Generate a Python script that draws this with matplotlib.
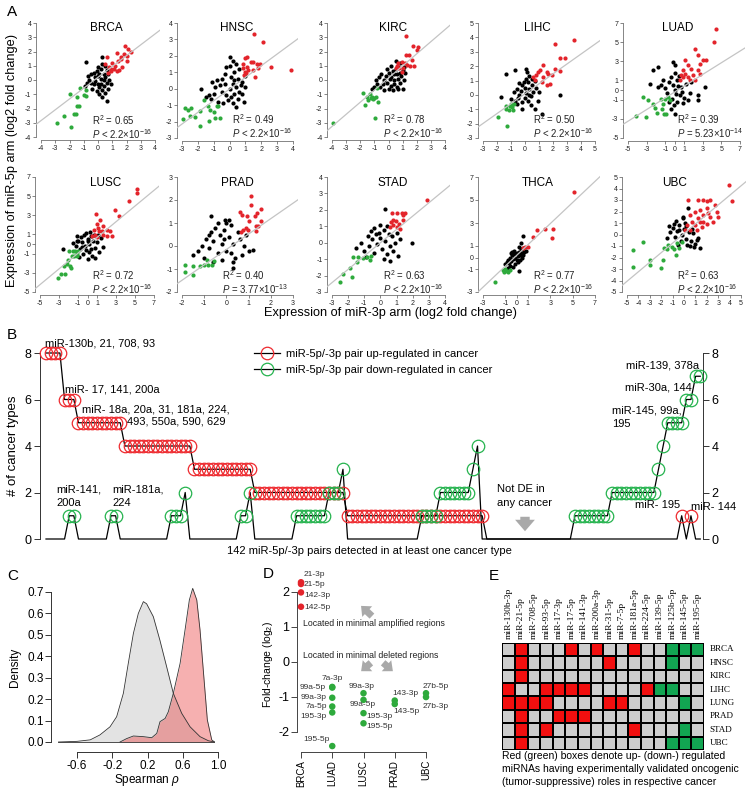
import numpy as np
import matplotlib
matplotlib.use('Agg')
import matplotlib.pyplot as plt
from matplotlib.lines import Line2D
from matplotlib.colors import ListedColormap
from matplotlib.patches import FancyArrowPatch

plt.rcParams['font.family'] = ['Liberation Sans', 'DejaVu Sans']
plt.rcParams['mathtext.fontset'] = 'custom'
plt.rcParams['mathtext.rm'] = 'Liberation Sans'
plt.rcParams['mathtext.it'] = 'Liberation Sans:italic'
plt.rcParams['mathtext.bf'] = 'Liberation Sans:bold'

# ---------------------------------------------------------------- data: panel A
cancers_A = ['BRCA', 'HNSC', 'KIRC', 'LIHC', 'LUAD', 'LUSC', 'PRAD', 'STAD', 'THCA', 'UBC']
r2_values = [0.65, 0.49, 0.78, 0.50, 0.39, 0.72, 0.40, 0.63, 0.77, 0.63]
p_relation = ['<', '<', '<', '<', '=', '<', '=', '<', '<', '<']
p_mantissa = ['2.2', '2.2', '2.2', '2.2', '5.23', '2.2', '3.77', '2.2', '2.2', '2.2']
p_exponent = [-16, -16, -16, -16, -14, -16, -13, -16, -16, -16]
fit_slopes = [0.76, 0.71, 0.85, 0.69, 0.61, 0.82, 0.67, 0.81, 0.92, 0.83]
fit_intercepts = [0.19, -0.02, 0.14, 0.08, -0.20, -0.13, -0.15, 0.0, 0.18, 0.08]

brca_red = [(1.9,2.4),(2.1,2.2),(2.3,2.0),(1.6,1.6),(0.6,1.6),(1.3,1.9),(1.6,1.5),(2.0,1.3),(1.0,1.2),(0.8,0.9),(1.4,1.3),(0.9,0.6),(1.1,0.8),(1.7,0.9),(0.7,0.5),(1.2,1.0),(1.5,0.7),(2.0,1.7),(0.5,1.1),(1.8,1.8),(0.9,0.8),(1.3,0.6)]
brca_green = [(-2.85,-3.04),(-1.92,-3.27),(-2.36,-2.5),(-1.68,-2.38),(-1.55,-2.38),(-1.45,-1.82),(-1.31,-1.82),(-1.45,-1.17),(-1.96,-0.98),(-1.26,-0.58),(-0.96,-1.05),(-0.84,-1.12),(-0.84,-0.7)]
brca_black = [(-0.84,1.25),(0.3,1.6),(0.5,1.0),(-0.5,0.4),(-0.3,0.5),(0.0,0.3),(0.2,0.1),(0.4,0.0),(-0.2,-0.1),(-0.6,0.0),(-0.8,-0.2),(0.1,-0.5),(0.3,-0.7),(0.5,-0.9),(0.1,-1.0),(0.6,-1.5),(0.3,-1.2),(-0.1,-0.8),(-0.4,-0.6),(0.7,0.4),(0.8,0.0),(0.9,-0.3),(0.6,0.7),(0.2,0.8),(-0.1,0.6),(-0.7,0.3),(0.4,0.4),(0.0,-0.3),(0.2,-0.3),(-0.3,-0.3),(0.5,0.2),(0.7,-0.6),(-0.9,-0.4),(0.0,0.9),(0.3,1.1),(-0.2,0.2),(0.1,0.4),(0.6,-0.2),(0.4,-0.4),(-0.5,-0.2)]

hnsc_red = [(1.53,3.3),(2.08,2.85),(3.9,1.14),(2.64,1.34),(1.07,1.9),(1.32,1.63),(1.49,1.63),(1.7,1.53),(1.9,1.53),(0.86,1.53),(1.11,1.34),(0.97,1.03),(0.9,0.83),(1.6,0.73),(1.18,1.14),(0.82,1.24),(1.8,1.24),(0.95,1.84),(1.49,1.14),(1.03,0.93)]
hnsc_green = [(-2.94,-1.83),(-2.48,-1.69),(-1.89,-2.25),(-2.8,-1.18),(-2.63,-1.28),(-2.16,-1.73),(-1.89,-1.33),(-1.64,-0.68),(-1.39,-1.04),(-1.32,-1.99),(-1.01,-1.39),(-0.8,-1.08),(-0.6,-1.79),(-0.91,-1.79),(-1.22,-1.28),(-0.7,-1.04),(-2.44,-1.18)]
hnsc_black = [(-1.8,0.0),(-1.3,-0.4),(-1.5,-0.5),(-1.2,-0.6),(-1.0,-0.3),(-1.1,0.4),(-0.8,0.5),(-0.6,0.2),(-0.5,-0.2),(-0.3,0.9),(-0.2,1.3),(0.0,1.9),(0.2,1.7),(0.4,1.5),(0.3,1.0),(0.6,1.2),(0.1,0.7),(0.5,0.6),(0.8,0.4),(0.7,0.2),(-0.7,-0.8),(-0.4,-0.9),(-0.1,-0.7),(0.2,-0.9),(0.4,-1.1),(0.9,-0.8),(1.0,0.1),(0.6,-0.2),(0.3,-0.3),(0.0,0.0),(-0.3,0.3),(0.2,0.3),(0.4,0.1),(-0.9,0.1),(-0.2,-0.4),(0.1,-0.5),(0.5,-0.6),(0.8,-0.3),(1.0,0.8),(-0.5,0.6),(0.0,1.4),(0.3,0.5)]

kirc_red = [(1.24,3.09),(1.76,2.39),(2.11,2.34),(1.24,1.75),(1.48,1.75),(0.7,1.17),(0.93,1.29),(1.17,1.22),(0.6,1.0),(1.55,0.96),(1.05,0.82),(0.76,0.82),(1.32,1.05),(1.63,1.4),(0.93,0.58),(2.0,2.1),(0.52,0.82),(1.8,0.96)]
kirc_green = [(-3.9,-3.04),(-1.31,-0.98),(-1.2,-1.17),(-1.04,-1.28),(-1.79,-0.93),(-1.55,-1.17),(-1.27,-1.29),(-1.08,-1.36),(-1.43,-1.4),(-1.67,-1.75),(-0.86,-1.17),(-0.72,-1.52),(-0.83,-0.58),(-0.96,-2.69)]
kirc_black = [(-1.2,-0.6),(-1.0,-0.5),(-0.8,-0.3),(-0.6,-0.5),(-0.4,-0.3),(-0.3,0.0),(-0.1,-0.2),(-0.2,0.3),(0.0,0.5),(0.2,0.2),(0.3,0.6),(0.5,0.8),(0.7,0.9),(0.6,0.4),(0.4,0.0),(0.2,-0.4),(0.0,-0.6),(0.3,-0.7),(0.6,-0.5),(0.8,-0.2),(0.9,0.3),(1.0,0.7),(1.1,0.9),(1.2,0.5),(0.8,1.2),(0.5,1.3),(0.2,1.0),(-0.1,0.8),(-0.5,0.4),(-0.7,0.2),(0.4,-0.3),(0.1,0.1),(0.7,0.1),(0.7,-0.6),(1.0,-0.6),(-0.9,0.0),(0.4,0.4),(-0.3,-0.7),(0.8,0.5),(1.1,0.0)]

lihc_red = [(3.49,3.84),(2.13,3.56),(2.49,2.56),(2.85,2.56),(2.49,1.66),(2.13,1.82),(1.25,2.05),(1.06,1.71),(1.54,1.59),(0.82,1.36),(1.3,1.24),(1.66,1.47),(0.7,1.01),(1.54,0.66),(1.78,0.78),(1.18,0.9),(0.94,1.59),(1.9,1.36),(0.58,1.24)]
lihc_green = [(-1.28,-2.19),(-1.93,-1.54),(-1.34,-0.8),(-1.09,-0.8),(-0.9,-0.84),(-1.14,-1.08),(-0.85,-1.08),(-0.97,-0.66),(-1.37,-0.96),(-0.8,-0.66)]
lihc_black = [(-1.33,1.42),(-0.73,1.7),(0.1,1.82),(0.15,1.59),(-1.68,-0.15),(-0.25,-0.96),(0.7,-0.96),(1.18,-1.31),(2.49,-0.03),(-0.8,0.2),(-0.6,0.4),(-0.5,-0.2),(-0.3,0.3),(-0.2,0.7),(0.0,0.5),(0.2,0.9),(0.3,0.4),(0.5,0.7),(0.6,0.2),(0.4,-0.1),(0.2,-0.4),(0.0,-0.2),(-0.2,-0.5),(-0.4,0.0),(-0.7,-0.4),(-1.0,-0.3),(0.7,1.0),(0.8,0.5),(1.0,0.2),(0.9,-0.4),(0.1,1.1),(-0.1,0.9),(0.3,1.3),(0.5,1.1),(-0.4,0.8),(0.1,0.1),(0.3,0.0),(-0.6,-0.6),(0.4,-0.7)]

luad_red = [(4.42,6.41),(4.24,5.02),(2.16,4.33),(2.52,3.63),(1.09,3.18),(2.7,2.76),(3.06,3.18),(3.35,3.11),(1.45,2.59),(1.8,2.24),(0.9,2.13),(1.09,1.72),(1.45,1.37),(1.98,1.54),(0.73,1.54),(2.52,2.07),(2.7,1.65),(0.55,1.02),(1.63,1.02),(0.9,1.37),(2.16,1.09)]
luad_green = [(-4.1,-2.73),(-3.1,-2.8),(-3.39,-0.71),(-2.85,-1.06),(-2.32,-1.48),(-2.14,-1.83),(-1.42,-0.88),(-1.24,-1.48),(-1.31,-1.93),(-1.13,-2.45),(-0.88,-2.45),(-1.88,-2.38),(-1.06,-0.88),(-0.52,-1.06),(-0.7,-0.71)]
luad_black = [(-2.32,2.06),(-1.78,2.41),(-2.67,0.6),(-0.16,2.93),(0.0,2.6),(3.25,0.32),(2.52,-0.55),(2.52,-1.06),(-0.34,-1.93),(0.0,-2.45),(-1.5,0.5),(-1.2,1.0),(-1.0,0.2),(-0.8,-0.3),(-0.6,0.8),(-0.4,1.4),(-0.2,0.5),(0.0,0.0),(0.2,1.0),(0.4,0.4),(0.6,-0.5),(0.8,-0.2),(1.0,-0.8),(1.2,0.6),(1.4,-1.0),(0.3,-1.2),(-0.3,-0.9),(-0.6,-1.2),(0.1,-0.4),(0.5,1.5),(0.0,1.8),(-1.8,0.3),(1.6,-0.3),(1.8,0.8),(0.7,0.3),(-0.1,-1.6),(0.9,-1.3)]

lusc_red = [(5.18,5.79),(5.18,5.33),(4.37,4.5),(3.35,2.9),(2.9,3.52),(0.9,3.14),(1.32,2.55),(1.67,1.85),(2.09,1.5),(0.96,2.14),(0.72,1.5),(1.25,1.33),(1.67,0.98),(2.37,1.33),(2.02,0.81),(0.79,0.98),(1.14,1.68),(0.44,0.89),(1.49,1.4),(2.54,0.89),(1.04,0.74)]
lusc_green = [(-3.07,-3.55),(-2.79,-3.09),(-2.37,-3.13),(-2.44,-2.26),(-2.19,-2.06),(-1.84,-2.26),(-1.77,-2.5),(-2.02,-1.64),(-1.67,-1.22),(-1.42,-1.29),(-1.07,-1.22),(-0.96,-0.76),(-1.91,-0.76),(-1.56,-0.76),(-1.32,-0.76),(-1.14,-1.0)]
lusc_black = [(-2.61,-0.5),(-1.14,0.29),(-1.5,0.1),(-1.2,-0.2),(-1.0,0.3),(-0.8,-0.5),(-0.6,0.2),(-0.4,0.9),(-0.2,1.2),(0.0,0.5),(0.2,0.0),(0.4,0.8),(0.6,0.3),(0.8,-0.4),(1.0,0.2),(1.2,-0.8),(0.5,-1.2),(0.2,-0.8),(-0.2,-0.6),(-0.5,-1.0),(-0.9,-1.3),(0.0,-1.6),(0.8,-1.5),(1.4,0.6),(0.3,1.3),(-0.7,0.7),(1.6,-0.3),(-0.3,-0.2),(0.7,0.9),(-1.1,0.8),(0.1,0.3),(1.1,0.9),(-0.6,-0.3),(0.4,-0.5)]

prad_red = [(1.13,2.19),(1.09,1.8),(0.61,1.46),(0.69,1.36),(0.91,1.29),(1.0,1.07),(1.58,1.62),(1.4,1.43),(1.28,1.29),(1.58,1.07),(1.33,0.88),(1.43,0.88),(1.33,0.64),(0.76,0.71),(0.88,0.78),(0.64,0.59),(0.99,0.71)]
prad_green = [(-1.85,-0.81),(-1.85,-1.14),(-1.51,-0.86),(-1.51,-1.25),(-1.21,-0.88),(-1.03,-0.81),(-0.88,-0.59),(-0.81,-0.81),(-0.66,-0.81),(-0.58,-0.67)]
prad_black = [(-0.7,1.29),(-0.06,1.14),(0.13,1.14),(0.31,-0.96),(1.21,-0.19),(-1.5,-0.4),(-1.3,-0.2),(-1.1,0.0),(-1.0,-0.5),(-0.9,0.3),(-0.8,-0.1),(-0.7,0.6),(-0.6,0.2),(-0.5,0.8),(-0.4,-0.3),(-0.3,0.5),(-0.2,0.1),(-0.1,0.7),(0.0,-0.2),(0.1,0.4),(0.2,0.9),(0.3,0.1),(0.4,-0.5),(0.5,0.6),(0.6,0.3),(0.7,-0.4),(0.8,0.0),(0.3,-0.7),(-0.2,-0.6),(-0.6,-0.7),(0.0,1.0),(-0.4,1.0),(0.9,0.5),(1.0,-0.2),(-0.8,0.5),(0.2,-0.3),(-0.1,0.3)]

stad_red = [(2.91,2.6),(0.7,1.79),(1.0,1.83),(1.31,1.79),(1.52,1.83),(1.41,1.69),(0.8,1.38),(0.96,1.34),(1.16,1.14),(0.63,1.28),(1.24,0.81),(0.8,1.08),(1.0,0.98),(1.41,1.38),(0.6,0.98)]
stad_green = [(-2.3,-1.9),(-2.5,-2.41),(-1.78,-2.07),(-1.88,-1.56),(-1.67,-0.85),(-1.36,-0.85),(-1.47,-1.16),(-1.05,-0.95),(-0.85,-0.89),(-0.6,-0.81),(-0.64,-1.05)]
stad_black = [(0.28,2.03),(1.94,-0.04),(-1.5,-0.3),(-1.2,0.0),(-1.0,-0.5),(-0.8,0.4),(-0.7,-0.2),(-0.5,0.2),(-0.4,-0.6),(-0.3,0.5),(-0.2,-0.1),(0.0,0.3),(0.1,-0.4),(0.2,0.8),(0.3,0.1),(0.4,-0.7),(0.5,0.5),(0.6,-0.2),(0.7,0.4),(0.8,-0.5),(0.9,0.0),(1.0,0.6),(1.1,-0.8),(0.4,1.0),(0.0,1.1),(-0.4,0.9),(-0.9,-0.9),(0.2,-1.0),(0.6,-1.1),(-0.1,0.6),(1.2,0.2),(-0.6,0.7)]

thca_red = [(5.13,5.72),(1.79,2.39),(1.44,1.81),(2.54,2.45),(3.22,2.45),(3.13,1.67),(1.04,0.94),(0.75,0.94),(0.54,0.8)]
thca_green = [(-1.93,-2.1),(-1.24,-1.09),(-0.89,-1.14),(-1.15,-1.3),(-0.77,-1.3),(-0.63,-1.09),(-1.04,-0.96)]
thca_black = [(0.6,1.9),(-1.0,-0.6),(-0.9,-0.4),(-0.8,-0.2),(-0.7,-0.5),(-0.6,0.0),(-0.5,-0.3),(-0.4,0.2),(-0.3,-0.1),(-0.2,0.3),(-0.1,0.0),(0.0,0.4),(0.1,0.1),(0.2,0.5),(0.3,0.2),(0.4,0.7),(0.5,0.4),(0.6,0.8),(0.7,0.5),(0.3,-0.2),(0.1,-0.4),(-0.1,-0.6),(-0.3,-0.8),(-0.6,-0.7),(0.5,0.0),(0.2,0.9),(-0.2,0.6),(0.4,1.3),(-0.4,0.5),(0.0,-0.2),(0.6,0.2),(0.2,-1.2),(-0.8,-0.9),(0.8,0.6),(-0.5,0.4)]

ubc_red = [(3.98,4.3),(4.18,2.94),(0.38,3.0),(1.25,3.0),(1.69,3.0),(1.99,2.87),(2.28,3.0),(2.72,2.57),(2.86,1.99),(1.99,2.28),(1.4,2.14),(0.96,1.99),(0.53,1.7),(1.69,1.7),(2.28,1.55),(1.25,1.41),(0.67,1.12),(1.69,1.12),(2.57,1.12),(0.96,0.83),(1.55,0.68),(1.99,0.91),(0.23,0.83),(3.0,1.55),(1.4,1.12),(2.13,1.84),(0.53,0.39),(1.1,0.39),(0.09,0.39)]
ubc_green = [(-4.44,-2.8),(-4.44,-1.35),(-3.63,-0.63),(-2.98,-2.22),(-2.98,-2.65),(-2.05,-2.88),(-1.87,-2.22),(-1.75,-1.14),(-1.52,-1.29),(-1.08,-1.06),(-0.88,-1.29),(-0.64,-0.77),(-0.7,-1.78),(-0.41,-1.2),(-1.37,-0.92),(-0.2,-0.63)]
ubc_black = [(-0.06,1.41),(0.38,2.28),(-1.5,-0.3),(-1.2,0.2),(-1.0,0.6),(-0.8,-0.2),(-0.6,0.3),(-0.4,0.8),(-0.2,0.0),(0.0,0.5),(0.2,-0.4),(0.4,0.2),(0.6,-0.6),(0.8,0.1),(1.0,-0.8),(1.2,-0.3),(1.4,-1.2),(0.5,-1.0),(-0.3,-0.6),(-0.9,0.9),(0.1,1.0),(-0.5,-0.9),(0.3,-0.9),(0.9,-1.1),(-1.3,0.7),(0.7,0.5),(-0.1,1.5),(-0.7,1.2),(1.1,-0.5),(0.2,0.7),(-0.4,0.4)]

points_A = {
    'BRCA': (brca_black, brca_red, brca_green), 'HNSC': (hnsc_black, hnsc_red, hnsc_green),
    'KIRC': (kirc_black, kirc_red, kirc_green), 'LIHC': (lihc_black, lihc_red, lihc_green),
    'LUAD': (luad_black, luad_red, luad_green), 'LUSC': (lusc_black, lusc_red, lusc_green),
    'PRAD': (prad_black, prad_red, prad_green), 'STAD': (stad_black, stad_red, stad_green),
    'THCA': (thca_black, thca_red, thca_green), 'UBC': (ubc_black, ubc_red, ubc_green),
}

ticks_A = {
    'BRCA': ([-4,-3,-2,-1,0,1,2,3,4], [-4,-3,-2,-1,0,1,2,3,4]),
    'HNSC': ([-3,-2,-1,0,1,2,3,4], [-3,-2,-1,0,1,2,3,4]),
    'KIRC': ([-4,-3,-2,-1,0,1,2,3,4], [-4,-3,-2,-1,0,1,2,3,4]),
    'LIHC': ([-3,-2,-1,0,1,2,3,4,5], [-3,-2,-1,0,1,2,3,4,5]),
    'LUAD': ([-5,-3,-1,0,1,3,5,7], [-5,-3,-1,0,1,3,5,7]),
    'LUSC': ([-5,-3,-1,0,1,3,5,7], [-5,-3,-1,0,1,3,5,7]),
    'PRAD': ([-2,-1,0,1,2,3], [-2,-1,0,1,2,3]),
    'STAD': ([-3,-2,-1,0,1,2,3,4], [-3,-2,-1,0,1,2,3,4]),
    'THCA': ([-3,-1,0,1,3,5,7], [-3,-1,0,1,3,5,7]),
    'UBC': ([-5,-4,-3,-2,-1,0,1,2,3,4,5], [-5,-4,-3,-2,-1,0,1,2,3,4,5]),
}

# ---------------------------------------------------------------- data: panel B
up_levels = [8, 6, 5, 4, 3, 2, 1, 0, 1, 0, 1, 0]
up_runs = [4, 3, 10, 15, 13, 20, 30, 42, 1, 1, 1, 2]
down_levels = [0, 1, 0, 1, 0, 1, 2, 0, 1, 2, 0, 1, 2, 3, 0, 1, 2, 3, 4, 0, 1, 2, 3, 4, 5, 6, 7]
down_runs = [5, 2, 7, 2, 11, 3, 1, 11, 2, 1, 9, 7, 3, 1, 16, 4, 7, 1, 1, 20, 8, 10, 1, 1, 4, 2, 2]

# ---------------------------------------------------------------- data: panel C
gray_rho = [-0.81, -0.60, -0.45, -0.34, -0.225, -0.15, -0.074, -0.018, 0.04, 0.096, 0.153, 0.19, 0.266, 0.34, 0.418, 0.493, 0.588, 0.683, 0.796, 0.89, 0.96]
gray_density = [0.0, 0.003, 0.01, 0.033, 0.071, 0.118, 0.227, 0.367, 0.507, 0.60, 0.655, 0.645, 0.585, 0.476, 0.35, 0.227, 0.134, 0.071, 0.025, 0.006, 0.0]
red_rho = [-0.112, -0.036, 0.04, 0.153, 0.248, 0.305, 0.342, 0.40, 0.436, 0.493, 0.57, 0.626, 0.675, 0.713, 0.759, 0.796, 0.842, 0.879, 0.929, 0.96]
red_density = [0.0, 0.016, 0.028, 0.025, 0.02, 0.04, 0.095, 0.11, 0.141, 0.227, 0.367, 0.523, 0.663, 0.717, 0.663, 0.523, 0.29, 0.103, 0.01, 0.0]

# ---------------------------------------------------------------- data: panel D
d_categories = ['BRCA', 'LUAD', 'LUSC', 'PRAD', 'UBC']
d_cat = ['BRCA', 'BRCA', 'BRCA', 'BRCA', 'LUAD', 'LUAD', 'LUAD', 'LUAD', 'LUAD', 'LUAD',
         'LUSC', 'LUSC', 'LUSC', 'LUSC', 'PRAD', 'PRAD', 'UBC', 'UBC']
d_labels = ['21-3p', '21-5p', '142-3p', '142-5p', '7a-3p', '99a-5p', '99a-3p', '7a-5p', '195-3p', '195-5p',
            '99a-3p', '99a-5p', '195-3p', '195-5p', '143-3p', '143-5p', '27b-5p', '27b-3p']
d_values = [2.27, 2.22, 1.98, 1.57, -0.72, -0.74, -1.03, -1.28, -1.45, -2.41,
            -0.90, -1.09, -1.47, -1.76, -1.11, -1.21, -0.90, -1.01]

# ---------------------------------------------------------------- data: panel E
e_columns = ['miR-130b-3p', 'miR-21-5p', 'miR-708-5p', 'miR-93-5p', 'miR-17-3p', 'miR-17-5p',
             'miR-141-3p', 'miR-200a-3p', 'miR-31-5p', 'miR-7-5p', 'miR-181a-5p', 'miR-224-5p',
             'miR-139-5p', 'miR-125b-5p', 'miR-145-5p', 'miR-195-5p']
e_rows = ['BRCA', 'HNSC', 'KIRC', 'LIHC', 'LUNG', 'PRAD', 'STAD', 'UBC']
e_brca = [0, 1, 0, 0, 0, 1, 0, 1, 0, 0, 1, 0, 0, -1, -1, -1]
e_hnsc = [0, 1, 0, 0, 0, 0, 0, 0, 1, 0, 0, 0, 0, -1, 0, 0]
e_kirc = [0, 1, 0, 0, 0, 0, 0, 0, 0, 0, 0, 0, 0, 0, 0, 0]
e_lihc = [1, 0, 0, 1, 1, 1, 1, 0, 0, 0, 0, 1, -1, -1, 0, 0]
e_lung = [1, 1, 1, 1, 0, 0, 0, 0, 1, 1, 0, 0, 0, 0, -1, 0]
e_prad = [0, 1, 0, 0, 1, 1, 1, 0, 0, 0, 0, 0, 0, 0, 0, 0]
e_stad = [0, 1, 0, 1, 0, 0, 0, 0, 0, 0, 1, 0, 0, 0, -1, 0]
e_ubc = [0, 1, 0, 0, 0, 0, 0, 0, 0, 0, 0, 0, 0, -1, -1, -1]

# ---------------------------------------------------------------- figure helpers
W, H = 750, 793
fig = plt.figure(figsize=(W / 100, H / 100), dpi=100)


def P(x, y):
    return (x / W, 1 - y / H)


def px_axes(l, t, r, b):
    return fig.add_axes([l / W, 1 - b / H, (r - l) / W, (b - t) / H])


def ftext(x, y, s, **kw):
    fx, fy = P(x, y)
    kw.setdefault('va', 'center')
    return fig.text(fx, fy, s, **kw)


RED = '#e3242b'
GREEN = '#2eaa3c'
AXC = '#555555'

# ---------------------------------------------------------------- panel A
# pixel positions of first/last tick (x) and top/bottom tick (y)
px_A = {
    'BRCA': (41, 155, 23, 137), 'HNSC': (182, 293, 23, 138), 'KIRC': (332, 445, 23, 137),
    'LIHC': (483, 595, 23, 138), 'LUAD': (628, 740, 23, 138),
    'LUSC': (40, 154, 177, 292), 'PRAD': (182, 293, 177, 292), 'STAD': (332, 445, 177, 292),
    'THCA': (483, 595, 177, 292), 'UBC': (627, 741, 177, 292),
}
title_px = {'BRCA': (106, 28), 'HNSC': (237, 28), 'KIRC': (393, 28), 'LIHC': (537, 28), 'LUAD': (678, 28),
            'LUSC': (106, 183), 'PRAD': (237, 183), 'STAD': (393, 183), 'THCA': (538, 183), 'UBC': (675, 183)}
stat_px = {'BRCA': (92, 120), 'HNSC': (232, 119), 'KIRC': (383, 119), 'LIHC': (533, 119), 'LUAD': (677, 119),
           'LUSC': (92, 275), 'PRAD': (222, 275), 'STAD': (383, 275), 'THCA': (533, 275), 'UBC': (677, 275)}

padx = 0.045
pady = 0.03
for k, name in enumerate(cancers_A):
    xt, yt = ticks_A[name]
    xp0, xp1, ypt, ypb = px_A[name]
    xr = xt[-1] - xt[0]
    yr = yt[-1] - yt[0]
    xppu = (xp1 - xp0) / xr
    yppu = (ypb - ypt) / yr
    ax = px_axes(xp0 - padx * xr * xppu, ypt - pady * yr * yppu, xp1 + padx * xr * xppu, ypb + pady * yr * yppu)
    ax.set_xlim(xt[0] - padx * xr, xt[-1] + padx * xr)
    ax.set_ylim(yt[0] - pady * yr, yt[-1] + pady * yr)
    blk, red, grn = points_A[name]
    for pts, col in ((blk, 'black'), (red, RED), (grn, GREEN)):
        arr = np.array(pts)
        ax.scatter(arr[:, 0], arr[:, 1], s=9, c=col, linewidths=0, zorder=3, clip_on=False)
    xs = np.array(ax.get_xlim())
    ax.plot(xs, fit_slopes[k] * xs + fit_intercepts[k], color='#c4c4c4', lw=0.9, zorder=4)
    for s in ('top', 'right'):
        ax.spines[s].set_visible(False)
    ax.spines['left'].set_bounds(yt[0], yt[-1])
    ax.spines['bottom'].set_bounds(xt[0], xt[-1])
    for s in ('left', 'bottom'):
        ax.spines[s].set_color(AXC)
        ax.spines[s].set_linewidth(0.5)
    ax.set_xticks(xt)
    ax.set_yticks(yt)
    ax.set_xticklabels([str(v) for v in xt])
    ax.set_yticklabels([str(v) for v in yt])
    ax.tick_params(length=2, width=0.5, color=AXC, labelsize=5, pad=1.2, labelcolor='#222222')
    ax.patch.set_alpha(0)
    tx, ty = title_px[name]
    ftext(tx, ty, name, ha='center', fontsize=8.5)
    sx, sy = stat_px[name]
    ftext(sx, sy, 'R$^2$ = %.2f' % r2_values[k], ha='left', fontsize=6.9, color='#222222')
    ftext(sx, sy + 14, r'$\mathit{P}$ %s %s×10$^{%d}$' % (p_relation[k], p_mantissa[k], p_exponent[k]),
          ha='left', fontsize=6.9, color='#222222')

ftext(12, 160, 'Expression of miR-5p arm (log2 fold change)', rotation=90, ha='center', fontsize=9.2)
ftext(390, 313, 'Expression of miR-3p arm (log2 fold change)', ha='center', fontsize=9.2)
ftext(7, 12, 'A', fontsize=11, ha='left')

# ---------------------------------------------------------------- panel B
up = np.repeat(up_levels, up_runs)
down = np.repeat(down_levels, down_runs)
idx = np.arange(1, len(up) + 1)

ppp = 4.64          # pixels per pair
x1px = 46           # pixel position of pair 1
y0px, y8px = 539, 353
yppu = (y0px - y8px) / 8
axB = px_axes(40, 345, 703, 547)
axB.set_xlim(1 + (40 - x1px) / ppp, 1 + (703 - x1px) / ppp)
axB.set_ylim(-(547 - y0px) / yppu, 8 + (y8px - 345) / yppu)
axB.plot(idx, up, color='black', lw=0.9, zorder=2)
axB.plot(idx, down, color='black', lw=0.9, zorder=2)
RED_B = '#ee2a2f'
GREEN_B = '#25b34e'
mu = up > 0
md = down > 0
axB.plot(idx[mu], up[mu], 'o', ms=9, mfc='none', mec=RED_B, mew=0.9, zorder=3, clip_on=False)
axB.plot(idx[md], down[md], 'o', ms=9, mfc='none', mec=GREEN_B, mew=0.9, zorder=4, clip_on=False)
for s in ('top', 'bottom'):
    axB.spines[s].set_visible(False)
for s in ('left', 'right'):
    axB.spines[s].set_bounds(0, 8)
    axB.spines[s].set_linewidth(0.7)
    axB.spines[s].set_color('#333333')
axB.set_xticks([])
axB.set_yticks([0, 2, 4, 6, 8])
axB.tick_params(axis='y', left=True, right=True, labelleft=True, labelright=True,
                length=4, width=0.7, labelsize=9, pad=2, color='#333333')
axB.patch.set_alpha(0)
axB.set_ylabel('# of cancer types', fontsize=9.5, labelpad=4)

handles = [Line2D([0], [0], color='black', lw=0.9, marker='o', ms=9, mfc='none', mec=RED_B, mew=0.9),
           Line2D([0], [0], color='black', lw=0.9, marker='o', ms=9, mfc='none', mec=GREEN_B, mew=0.9)]
fig.legend(handles, ['miR-5p/-3p pair up-regulated in cancer', 'miR-5p/-3p pair down-regulated in cancer'],
           loc='upper left', bbox_to_anchor=P(254, 349), frameon=False, fontsize=8,
           handlelength=2.3, handletextpad=0.6, labelspacing=0.55, borderpad=0, borderaxespad=0)

bfs = 8
ftext(45, 343, 'miR-130b, 21, 708, 93', fontsize=bfs)
ftext(65, 389, 'miR- 17, 141, 200a', fontsize=bfs)
ftext(82, 409, 'miR- 18a, 20a, 31, 181a, 224,', fontsize=bfs)
ftext(127, 421, '493, 550a, 590, 629', fontsize=bfs)
ftext(56, 490, 'miR-141,', fontsize=bfs)
ftext(56, 503, '200a', fontsize=bfs)
ftext(112, 490, 'miR-181a,', fontsize=bfs)
ftext(112, 503, '224', fontsize=bfs)
ftext(497, 489, 'Not DE in', fontsize=bfs)
ftext(497, 503, 'any cancer', fontsize=bfs)
ftext(626, 366, 'miR-139, 378a', fontsize=bfs)
ftext(625, 388, 'miR-30a, 144', fontsize=bfs)
ftext(612, 411, 'miR-145, 99a,', fontsize=bfs)
ftext(612, 424, '195', fontsize=bfs)
ftext(635, 505, 'miR- 195', fontsize=bfs)
ftext(691, 507, 'miR- 144', fontsize=bfs)
ftext(227, 551, '142 miR-5p/-3p pairs detected in at least one cancer type', fontsize=bfs)
ftext(7, 335, 'B', fontsize=11, ha='left')


def garrow(x0, y0, x1, y1, scale):
    fig.add_artist(FancyArrowPatch(P(x0, y0), P(x1, y1), transform=fig.transFigure,
                                   arrowstyle='simple,head_length=0.55,head_width=0.95,tail_width=0.45',
                                   mutation_scale=scale, color='#a9a9a9', lw=0))


garrow(525, 514, 525, 534, 15)

# ---------------------------------------------------------------- panel C
cx_ppu = (218 - 77) / 1.6
cy_ppu = (742 - 592) / 0.7
xloC, xhiC = -0.89, 1.08
yloC, yhiC = -0.047, 0.735
axC = px_axes(77 + (xloC + 0.6) * cx_ppu, 742 - yhiC * cy_ppu, 77 + (xhiC + 0.6) * cx_ppu, 742 - yloC * cy_ppu)
axC.set_xlim(xloC, xhiC)
axC.set_ylim(yloC, yhiC)
axC.fill_between(gray_rho, gray_density, 0, color='#e3e3e3', lw=0, zorder=1)
axC.fill_between(red_rho, red_density, 0, color='#ea3b3b', alpha=0.4, lw=0, zorder=2)
axC.plot(gray_rho, gray_density, color='#333333', lw=0.6, zorder=3)
axC.plot(red_rho, red_density, color='#333333', lw=0.6, zorder=3)
axC.plot([gray_rho[0], gray_rho[-1]], [0, 0], color='#333333', lw=0.6, zorder=3)
for s in ('top', 'right'):
    axC.spines[s].set_visible(False)
axC.spines['left'].set_bounds(0, 0.7)
axC.spines['bottom'].set_bounds(-0.6, 1.0)
for s in ('left', 'bottom'):
    axC.spines[s].set_linewidth(0.7)
    axC.spines[s].set_color('#333333')
axC.set_yticks([0, 0.1, 0.2, 0.3, 0.4, 0.5, 0.6, 0.7])
axC.set_yticklabels(['0.0', '0.1', '0.2', '0.3', '0.4', '0.5', '0.6', '0.7'])
axC.set_xticks([-0.6, -0.2, 0.2, 0.6, 1.0])
axC.set_xticklabels(['-0.6', '-0.2', '0.2', '0.6', '1.0'])
axC.tick_params(length=4, width=0.7, labelsize=8.5, pad=1.5, color='#333333')
axC.patch.set_alpha(0)
ftext(15, 667, 'Density', rotation=90, ha='center', fontsize=8.5)
ftext(147, 780, r'Spearman $\rho$', ha='center', fontsize=8.5)
ftext(7, 576, 'C', fontsize=11, ha='left')

# ---------------------------------------------------------------- panel D
dx_ppu = (426 - 301) / 4
dy_ppu = (731.7 - 591.7) / 4
xloD = -(301 - 296.7) / dx_ppu
xhiD = 4 + (436 - 426) / dx_ppu
yloD = -2 - (751.7 - 731.7) / dy_ppu
yhiD = 2 + (591.7 - 577) / dy_ppu
axD = px_axes(296.7, 577, 436, 751.7)
axD.set_xlim(xloD, xhiD)
axD.set_ylim(yloD, yhiD)
cat_index = {c: i for i, c in enumerate(d_categories)}
dxs = np.array([cat_index[c] for c in d_cat])
dvals = np.array(d_values)
dcols = [RED if v > 0 else GREEN for v in dvals]
axD.scatter(dxs, dvals, s=22, c=dcols, linewidths=0, zorder=3, clip_on=False)
label_offsets = [(3, -8, 'left'), (3, 1, 'left'), (3, 3, 'left'), (3, 1, 'left'),
                 (0, -8, 'center'), (-6, 0, 'right'), (-6, 0, 'right'), (-5, 0, 'right'), (-6, 4, 'right'), (-3, -7, 'right'),
                 (-2, -7, 'center'), (-1, 5, 'center'), (3, 3, 'left'), (3, 3, 'left'),
                 (-2, -7, 'left'), (-1, 7, 'left'), (-3, -7, 'left'), (-3, 9, 'left')]
for xi, v, lab, (ox, oy, ha) in zip(dxs, dvals, d_labels, label_offsets):
    axD.annotate(lab, (xi, v), xytext=(ox * 0.72, -oy * 0.72), textcoords='offset points',
                 ha=ha, va='center', fontsize=6, color='#333333', annotation_clip=False)
for s in ('top', 'right'):
    axD.spines[s].set_visible(False)
axD.spines['left'].set_bounds(-2, 2)
axD.spines['bottom'].set_bounds(0, 4)
for s in ('left', 'bottom'):
    axD.spines[s].set_linewidth(0.7)
    axD.spines[s].set_color('#444444')
axD.set_yticks([-2, -1, 0, 1, 2])
axD.set_yticklabels(['-2', '-1', '0', '1', '2'])
axD.set_xticks(range(len(d_categories)))
axD.set_xticklabels(d_categories, rotation=90)
axD.tick_params(axis='y', length=4, width=0.7, labelsize=9, pad=1.5, color='#444444')
axD.tick_params(axis='x', length=4, width=0.7, labelsize=7, pad=2, color='#444444')
axD.patch.set_alpha(0)
ftext(268, 664, 'Fold-change (log$_2$)', rotation=90, ha='center', fontsize=7.5)
ftext(303, 623, 'Located in minimal amplified regions', fontsize=6.3, color='#222222')
ftext(303, 655, 'Located in minimal deleted regions', fontsize=6.3, color='#222222')
garrow(374, 618, 359, 604, 11)
garrow(373, 661, 359, 673, 11)
garrow(381, 661, 395, 673, 11)
ftext(263, 574, 'D', fontsize=11, ha='left')

# ---------------------------------------------------------------- panel E
mat = np.array([e_brca, e_hnsc, e_kirc, e_lihc, e_lung, e_prad, e_stad, e_ubc])
axE = px_axes(502.3, 642.7, 704, 750)
cmapE = ListedColormap(['#12a552', '#cdcdcd', '#f20f0f'])
axE.pcolormesh(np.arange(mat.shape[1] + 1), np.arange(mat.shape[0] + 1), mat, cmap=cmapE,
               vmin=-1.5, vmax=1.5, edgecolors='black', linewidth=1.1)
axE.set_xlim(0, mat.shape[1])
axE.set_ylim(mat.shape[0], 0)
axE.axis('off')
for j, lab in enumerate(e_columns):
    axE.text(j + 0.5, -0.3, lab, rotation=90, ha='center', va='bottom', fontsize=6.8,
             family=['Liberation Serif', 'DejaVu Serif'])
for i, lab in enumerate(e_rows):
    axE.text(mat.shape[1] + 0.45, i + 0.5, lab, ha='left', va='center', fontsize=6.5,
             family=['Liberation Serif', 'DejaVu Serif'])
ftext(502, 756, 'Red (green) boxes denote up- (down-) regulated', fontsize=7.5)
ftext(502, 769, 'miRNAs having experimentally validated oncogenic', fontsize=7.5)
ftext(502, 782, '(tumor-suppressive) roles in respective cancer', fontsize=7.5)
ftext(489, 576, 'E', fontsize=11, ha='left')

fig.savefig('out.png', dpi=100)
